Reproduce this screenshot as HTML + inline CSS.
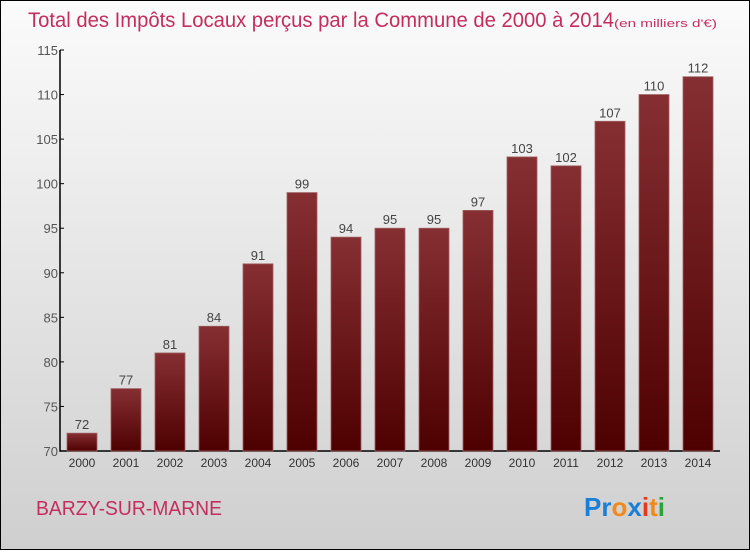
<!DOCTYPE html>
<html><head><meta charset="utf-8"><style>
body{margin:0}
#c{width:748px;height:548px;border:1px solid #000;background:linear-gradient(#fbfbfb,#cfcfcf);position:relative;font-family:"Liberation Sans",sans-serif}
</style></head><body>
<div id="c">
<svg width="748" height="548" id="s">
<defs><linearGradient id="g" x1="0" y1="0" x2="0" y2="1"><stop offset="0" stop-color="#862f33"/><stop offset="1" stop-color="#4e0000"/></linearGradient></defs>
<text x="27" y="26" font-size="21" fill="#c42e5e" textLength="586" lengthAdjust="spacingAndGlyphs">Total des Impôts Locaux perçus par la Commune de 2000 à 2014</text>
<text x="613" y="26" font-size="11" fill="#c42e5e" textLength="103" lengthAdjust="spacingAndGlyphs">(en milliers d'€)</text>
<text x="35" y="514" font-size="20" fill="#c42e5e" textLength="186" lengthAdjust="spacingAndGlyphs">BARZY-SUR-MARNE</text>
<text x="583" y="515" font-size="26" font-weight="bold"><tspan fill="#1a7fd6">Pr</tspan><tspan fill="#f08a1c">o</tspan><tspan fill="#1a7fd6">x</tspan><tspan fill="#e23a1a">i</tspan><tspan fill="#f08a1c">t</tspan><tspan fill="#2aa33a">i</tspan></text>
<g id="plot"></g>
</svg></div>
<script>
const years=["2000","2001","2002","2003","2004","2005","2006","2007","2008","2009","2010","2011","2012","2013","2014"];
const values=[72,77,81,84,91,99,94,95,95,97,103,102,107,110,112];
const ticks=[70,75,80,85,90,95,100,105,110,115];
const NS="http://www.w3.org/2000/svg";
const p=document.getElementById('plot');
const y=v=>450-(v-70)*(401/45);
const x=i=>81+i*44;
function mk(t,a,txt){const e=document.createElementNS(NS,t);for(const k in a)e.setAttribute(k,a[k]);if(txt!==undefined)e.textContent=txt;p.appendChild(e);return e;}
let ax=mk('path',{d:`M59 ${y(115)} V450 H719`,stroke:'#000','stroke-width':1.5,fill:'none'});


ticks.forEach(t=>{
 const l=mk('line',{x1:59,x2:63,y1:y(t),y2:y(t),stroke:'#000'});
 
 
 const tx=mk('text',{x:57,y:y(t)+5,'text-anchor':'end','font-size':13,fill:'#555'},t);
 
 
});
years.forEach((yr,i)=>{
 const b=mk('rect',{x:x(i)-15,y:y(values[i]),width:30,height:450-y(values[i]),fill:'url(#g)',stroke:'#a06060','stroke-width':0.8});
 
 
 const v=mk('text',{x:x(i),y:y(values[i])-4,'text-anchor':'middle','font-size':13,fill:'#444'},values[i]);
 
 
 const xl=mk('text',{x:x(i),y:466,'text-anchor':'middle','font-size':12,fill:'#333'},yr);
 
 
});
</script>
</body></html>
